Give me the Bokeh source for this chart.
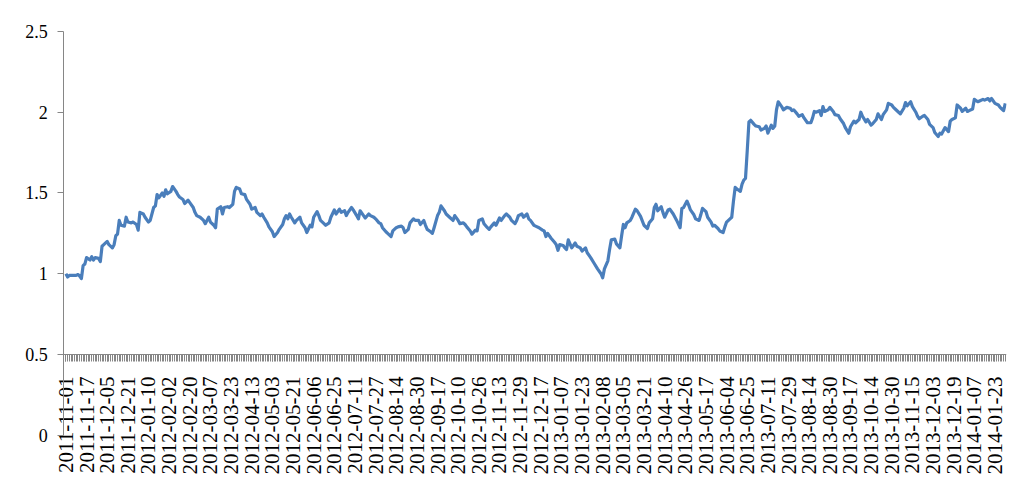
import math
from bokeh.plotting import figure
from bokeh.models import Range1d, FixedTicker, ColumnDataSource
from bokeh.embed import file_html
from bokeh.resources import INLINE

# Trading-day tick labels (one every 12 trading days)
tick_labels = [
    "2011-11-01", "2011-11-17", "2011-12-05", "2011-12-21", "2012-01-10", "2012-02-02",
    "2012-02-20", "2012-03-07", "2012-03-23", "2012-04-13", "2012-05-03", "2012-05-21",
    "2012-06-06", "2012-06-25", "2012-07-11", "2012-07-27", "2012-08-14", "2012-08-30",
    "2012-09-17", "2012-10-10", "2012-10-26", "2012-11-13", "2012-11-29", "2012-12-17",
    "2013-01-07", "2013-01-23", "2013-02-08", "2013-03-05", "2013-03-21", "2013-04-10",
    "2013-04-26", "2013-05-17", "2013-06-04", "2013-06-25", "2013-07-11", "2013-07-29",
    "2013-08-14", "2013-08-30", "2013-09-17", "2013-10-14", "2013-10-30", "2013-11-15",
    "2013-12-03", "2013-12-19", "2014-01-07", "2014-01-23",
]
label_step = 12
n_days = 547

# Series: trading-day index and value
day_index = [
    0, 1, 2, 6, 7, 8, 9, 10, 11, 12, 14, 15, 16, 17, 19, 20, 21, 22, 24, 25, 27, 28, 29, 30,
    31, 32, 34, 35, 36, 38, 39, 41, 42, 43, 45, 46, 48, 49, 51, 52, 53, 54, 56, 57, 58, 59,
    61, 62, 64, 65, 66, 68, 69, 71, 72, 74, 75, 76, 78, 80, 81, 83, 84, 86, 87, 88, 90, 91,
    92, 94, 95, 97, 98, 99, 101, 102, 104, 105, 107, 108, 110, 111, 113, 114, 115, 117, 118,
    120, 121, 123, 124, 126, 127, 128, 129, 130, 131, 133, 134, 136, 137, 139, 140, 142, 143,
    144, 146, 147, 148, 150, 151, 153, 154, 156, 157, 159, 160, 162, 163, 164, 166, 167, 169,
    170, 171, 173, 174, 176, 177, 179, 180, 182, 183, 184, 186, 187, 189, 190, 192, 193, 195,
    196, 197, 199, 200, 202, 203, 205, 206, 208, 209, 210, 212, 213, 214, 216, 217, 218, 220,
    221, 223, 225, 226, 228, 229, 231, 232, 233, 235, 236, 238, 239, 240, 242, 243, 245, 246,
    247, 249, 250, 252, 253, 255, 256, 258, 259, 261, 262, 263, 265, 266, 268, 269, 270, 272,
    273, 275, 277, 278, 279, 280, 282, 284, 285, 286, 287, 289, 290, 291, 292, 294, 295, 296,
    297, 299, 300, 302, 303, 305, 307, 309, 311, 312, 313, 315, 316, 317, 319, 320, 322, 323,
    324, 325, 326, 328, 329, 331, 332, 334, 336, 338, 339, 341, 342, 343, 344, 346, 347, 348,
    350, 351, 353, 354, 355, 357, 358, 359, 361, 362, 363, 365, 366, 368, 369, 370, 372, 373,
    375, 376, 377, 379, 380, 382, 383, 384, 386, 387, 388, 389, 390, 392, 393, 394, 395, 396,
    397, 398, 400, 401, 403, 404, 406, 407, 408, 410, 411, 412, 413, 414, 416, 417, 419, 421,
    422, 423, 425, 426, 428, 429, 431, 433, 434, 435, 436, 438, 439, 440, 441, 443, 444, 446,
    447, 449, 450, 452, 453, 455, 456, 458, 459, 461, 462, 463, 465, 466, 468, 469, 471, 472,
    474, 475, 477, 478, 480, 481, 482, 484, 485, 487, 488, 489, 491, 492, 494, 495, 496, 498,
    499, 501, 502, 504, 505, 507, 508, 509, 511, 513, 514, 515, 517, 518, 520, 521, 523, 524,
    525, 527, 528, 530, 531, 533, 534, 536, 537, 538, 540, 542, 543, 544, 545, 546,
]
value = [
    1.00, 0.98, 0.99, 0.99, 0.995, 0.985, 0.97, 1.05, 1.06, 1.10, 1.085, 1.105, 1.085, 1.10,
    1.095, 1.075, 1.17, 1.18, 1.20, 1.18, 1.16, 1.18, 1.235, 1.245, 1.33, 1.30, 1.295, 1.35,
    1.32, 1.315, 1.32, 1.305, 1.27, 1.38, 1.37, 1.35, 1.32, 1.33, 1.41, 1.42, 1.49, 1.47,
    1.50, 1.48, 1.52, 1.495, 1.51, 1.54, 1.51, 1.49, 1.475, 1.46, 1.435, 1.455, 1.44, 1.41,
    1.38, 1.36, 1.35, 1.33, 1.31, 1.35, 1.32, 1.30, 1.285, 1.40, 1.415, 1.37, 1.41, 1.415,
    1.41, 1.43, 1.51, 1.535, 1.525, 1.495, 1.49, 1.46, 1.43, 1.40, 1.41, 1.38, 1.36, 1.37,
    1.35, 1.315, 1.29, 1.26, 1.23, 1.255, 1.275, 1.305, 1.34, 1.36, 1.34, 1.37, 1.35, 1.315,
    1.33, 1.35, 1.315, 1.285, 1.255, 1.30, 1.29, 1.35, 1.385, 1.36, 1.33, 1.31, 1.30, 1.315,
    1.35, 1.395, 1.37, 1.40, 1.38, 1.39, 1.36, 1.38, 1.41, 1.395, 1.36, 1.34, 1.39, 1.36,
    1.345, 1.37, 1.36, 1.35, 1.34, 1.315, 1.31, 1.285, 1.26, 1.25, 1.23, 1.265, 1.285, 1.29,
    1.295, 1.285, 1.255, 1.275, 1.315, 1.34, 1.33, 1.33, 1.305, 1.33, 1.30, 1.275, 1.26, 1.25,
    1.285, 1.36, 1.38, 1.42, 1.39, 1.37, 1.35, 1.33, 1.36, 1.33, 1.31, 1.315, 1.305, 1.29,
    1.265, 1.245, 1.27, 1.265, 1.33, 1.34, 1.31, 1.285, 1.275, 1.29, 1.315, 1.30, 1.345, 1.33,
    1.36, 1.37, 1.35, 1.33, 1.31, 1.33, 1.36, 1.37, 1.35, 1.37, 1.34, 1.33, 1.30, 1.295,
    1.285, 1.27, 1.265, 1.23, 1.25, 1.22, 1.195, 1.18, 1.145, 1.18, 1.175, 1.16, 1.15, 1.21,
    1.16, 1.175, 1.19, 1.17, 1.16, 1.14, 1.16, 1.13, 1.10, 1.065, 1.03, 1.00, 0.975, 1.03,
    1.08, 1.15, 1.21, 1.215, 1.185, 1.16, 1.235, 1.305, 1.285, 1.315, 1.33, 1.35, 1.40, 1.39,
    1.355, 1.30, 1.28, 1.315, 1.34, 1.41, 1.43, 1.39, 1.415, 1.38, 1.35, 1.395, 1.40, 1.37,
    1.35, 1.33, 1.285, 1.405, 1.41, 1.45, 1.425, 1.395, 1.365, 1.34, 1.33, 1.365, 1.405,
    1.385, 1.35, 1.32, 1.295, 1.30, 1.28, 1.265, 1.255, 1.29, 1.32, 1.34, 1.35, 1.45, 1.535,
    1.525, 1.51, 1.555, 1.58, 1.59, 1.76, 1.94, 1.95, 1.925, 1.915, 1.91, 1.89, 1.90, 1.915,
    1.87, 1.92, 1.90, 1.915, 2.015, 2.065, 2.035, 2.015, 2.03, 2.025, 2.01, 2.015, 1.99,
    1.975, 1.985, 1.965, 1.935, 1.935, 1.965, 2.005, 2.00, 2.01, 1.98, 2.035, 2.005, 2.015,
    2.03, 2.005, 1.985, 1.98, 1.96, 1.93, 1.905, 1.87, 1.91, 1.945, 1.935, 1.955, 2.00, 1.975,
    1.94, 1.955, 1.92, 1.93, 1.955, 1.99, 1.955, 1.985, 2.015, 2.055, 2.045, 2.03, 2.02, 2.00,
    1.99, 2.025, 2.06, 2.04, 2.065, 2.035, 2.00, 1.975, 1.96, 1.975, 1.98, 1.955, 1.925,
    1.905, 1.875, 1.85, 1.87, 1.865, 1.905, 1.88, 1.945, 1.955, 1.965, 2.045, 2.025, 2.005,
    2.025, 2.005, 2.01, 2.02, 2.08, 2.065, 2.07, 2.08, 2.075, 2.085, 2.07, 2.085, 2.055,
    2.045, 2.03, 2.02, 2.01, 2.055,
]

y_ticks = [0, 0.5, 1, 1.5, 2, 2.5]
y_tick_labels = ["0", "0.5", "1", "1.5", "2", "2.5"]

x_start = -1.3   # where the value axis crosses the category axis
x_end = 546.7

source = ColumnDataSource(data=dict(x=day_index, y=value))

p = figure(
    frame_width=991, frame_height=476,
    min_border_left=15, min_border_right=18, min_border_top=12, min_border_bottom=12,
    x_range=Range1d(-29.3, x_end), y_range=Range1d(-0.33, 2.6177),
    output_backend="svg", toolbar_location=None,
    background_fill_color="white", border_fill_color="white",
)
p.outline_line_color = None
p.grid.visible = False
p.styles = {"outline": "1px solid #d9d9d9", "outline-offset": "-3px"}

p.line("x", "y", source=source, line_color="#4A7EBB", line_width=3.2, line_join="round")

axis_gray = "#868686"
font = "Liberation Serif"

major_ticks = list(range(0, len(tick_labels) * label_step, label_step))
xa = p.xaxis[0]
xa.ticker = FixedTicker(ticks=major_ticks, minor_ticks=list(range(0, n_days)))
xa.major_label_overrides = {t: lab for t, lab in zip(major_ticks, tick_labels)}
xa.fixed_location = 0.5
xa.bounds = (x_start, x_end)
xa.major_label_orientation = math.pi / 2
xa.axis_line_color = axis_gray
xa.major_tick_line_color = axis_gray
xa.minor_tick_line_color = axis_gray
xa.major_tick_in = 0
xa.major_tick_out = 7
xa.minor_tick_in = 0
xa.minor_tick_out = 7
xa.major_label_standoff = 15
xa.major_label_text_font = font
xa.major_label_text_font_size = "21px"
xa.major_label_text_color = "black"

ya = p.yaxis[0]
ya.fixed_location = x_start
ya.bounds = (0, 2.5)
ya.ticker = FixedTicker(ticks=y_ticks)
ya.major_label_overrides = {t: lab for t, lab in zip(y_ticks, y_tick_labels)}
ya.axis_line_color = axis_gray
ya.major_tick_line_color = axis_gray
ya.minor_tick_line_color = None
ya.major_tick_in = 0
ya.major_tick_out = 6
ya.major_label_standoff = 10
ya.major_label_text_font = font
ya.major_label_text_font_size = "18px"
ya.major_label_text_color = "black"

open("out.html", "w").write(file_html(p, INLINE))
